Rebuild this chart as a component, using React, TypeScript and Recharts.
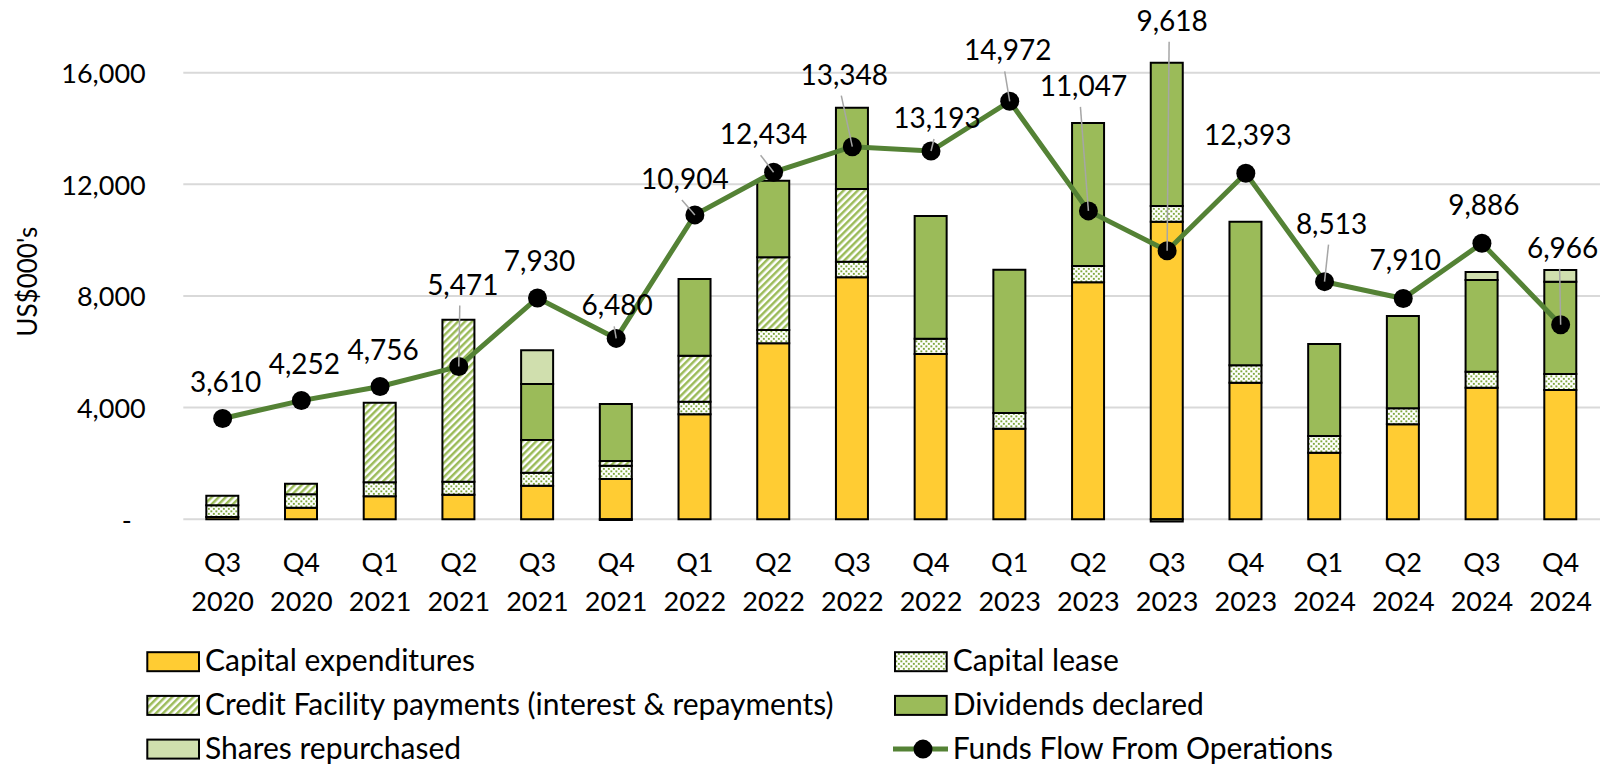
import React from "react";
import {
  ComposedChart,
  Bar,
  Line,
  XAxis,
  YAxis,
  CartesianGrid,
  LabelList,
} from "recharts";

// Quarterly uses of cash (stacked bars) vs funds flow from operations (line), US$000's
const quarters = [
  "Q3 2020", "Q4 2020", "Q1 2021", "Q2 2021", "Q3 2021", "Q4 2021",
  "Q1 2022", "Q2 2022", "Q3 2022", "Q4 2022", "Q1 2023", "Q2 2023",
  "Q3 2023", "Q4 2023", "Q1 2024", "Q2 2024", "Q3 2024", "Q4 2024",
];

const capitalExpenditures = [80, 415, 824, 881, 1204, 1444, 3761, 6304, 8668, 5921, 3245, 8489, 10660, 4893, 2386, 3403, 4714, 4632];
const capitalLease = [420, 480, 500, 466, 465, 476, 452, 477, 559, 548, 563, 584, 562, 623, 598, 573, 573, 573];
const creditFacility = [345, 380, 2852, 5803, 1171, 168, 1647, 2604, 2604, 0, 0, 0, 0, 0, 0, 0, 0, 0];
const dividendsDeclared = [0, 0, 0, 0, 2007, 2042, 2748, 2744, 2913, 4395, 5133, 5123, 5134, 5144, 3295, 3306, 3285, 3306];
const sharesRepurchased = [0, 0, 0, 0, 1207, -30, 0, 0, 0, 0, 0, 0, -80, 0, 0, 0, 290, 420];
const fundsFlow = [3610, 4252, 4756, 5471, 7930, 6480, 10904, 12434, 13348, 13193, 14972, 11047, 9618, 12393, 8513, 7910, 9886, 6966];

const yTicks = [0, 4000, 8000, 12000, 16000];

// where the data labels were dragged to in the original (dx, dy from the point; leader line or not)
const labelNudges: [number, number, boolean][] = [
  [3, -38, false], [3, -38, false], [3, -38, false], [4, -83, true],
  [2, -38, false], [1, -34, true], [-10, -37, true], [-10, -39, true],
  [-8, -73, true], [6, -34, true], [-2, -52, true], [-5, -126, true],
  [5, -231, true], [2, -39, false], [7, -59, true], [2, -39, false],
  [2, -39, false], [2, -78, true],
];

const data = quarters.map((quarter, i) => ({
  quarter,
  capex: capitalExpenditures[i],
  lease: capitalLease[i],
  credit: creditFacility[i],
  dividends: dividendsDeclared[i],
  shares: sharesRepurchased[i],
  ffo: fundsFlow[i],
}));

const FONT = "Lato, sans-serif";
const LINE_GREEN = "#548235";

const legendItems = [
  { name: "Capital expenditures", fill: "#FFCC33" },
  { name: "Capital lease", fill: "url(#leaseDots)" },
  { name: "Credit Facility payments (interest & repayments)", fill: "url(#creditStripes)" },
  { name: "Dividends declared", fill: "#9BBB59" },
  { name: "Shares repurchased", fill: "#D0DFAE" },
  { name: "Funds Flow From Operations", fill: null },
];

const QuarterTick = ({ x, y, payload }: any) => {
  const [q, yr] = String(payload.value).split(" ");
  return (
    <text textAnchor="middle" fontFamily={FONT} fontSize={27} fill="#000">
      <tspan x={x} y={y + 50}>{q}</tspan>
      <tspan x={x} y={y + 89}>{yr}</tspan>
    </text>
  );
};

const AmountTick = ({ x, y, payload }: any) => (
  <text
    x={payload.value === 0 ? x - 14 : x}
    y={y}
    textAnchor="end"
    dominantBaseline="central"
    fontFamily={FONT}
    fontSize={27}
    fill="#000"
  >
    {payload.value === 0 ? "-" : Number(payload.value).toLocaleString("en-US")}
  </text>
);

const FlowLabel = (props: any) => {
  const { x, y, value, index } = props;
  const [dx, dy, leader] = labelNudges[index] || [0, -38, false];
  return (
    <g>
      {leader && (
        <line x1={x + dx - 3} y1={y + dy + 22} x2={x} y2={y} stroke="#A6A6A6" strokeWidth={1.5} />
      )}
      <text
        x={x + dx}
        y={y + dy}
        textAnchor="middle"
        dominantBaseline="central"
        fontFamily={FONT}
        fontSize={28}
        fill="#000"
      >
        {Number(value).toLocaleString("en-US")}
      </text>
    </g>
  );
};

function Legend() {
  return (
    <svg width={1603} height={145} style={{ position: "absolute", left: 0, top: 620 }}>
      {legendItems.map((item, i) => {
        const sx = 147.3 + (i % 2) * 747.7;
        const cy = 41.7 + Math.floor(i / 2) * 43.7;
        return (
          <g key={item.name}>
            {item.fill ? (
              <rect x={sx} y={cy - 9.5} width={51.7} height={19} fill={item.fill} stroke="#000" strokeWidth={2} />
            ) : (
              <g>
                <line x1={sx - 2} y1={cy} x2={sx + 53} y2={cy} stroke={LINE_GREEN} strokeWidth={5} />
                <circle cx={sx + 28} cy={cy} r={9.5} fill="#000" />
              </g>
            )}
            <text x={sx + 57.7} y={cy + 9.5} fontFamily={FONT} fontSize={30} fill="#000">
              {item.name}
            </text>
          </g>
        );
      })}
    </svg>
  );
}

export default function App() {
  return (
    <div style={{ position: "absolute", left: 0, top: 0, width: 1603, height: 765, background: "#fff" }}>
      <svg width={0} height={0} style={{ position: "absolute" }}>
        <defs>
          <pattern id="leaseDots" patternUnits="userSpaceOnUse" width={5} height={5}>
            <rect width={5} height={5} fill="#fff" />
            <rect x={0.4} y={0.4} width={1.9} height={1.9} fill="#7FA83F" />
            <rect x={2.9} y={2.9} width={1.9} height={1.9} fill="#7FA83F" />
          </pattern>
          <pattern id="creditStripes" patternUnits="userSpaceOnUse" width={5} height={5} patternTransform="rotate(45)">
            <rect width={5} height={5} fill="#fff" />
            <rect width={2.5} height={5} fill="#9BBB59" />
          </pattern>
        </defs>
      </svg>

      <ComposedChart
        width={1603}
        height={621.8}
        data={data}
        stackOffset="sign"
        margin={{ top: 16.8, right: 3, bottom: 0, left: 0 }}
      >
        <CartesianGrid vertical={false} horizontalValues={yTicks} stroke="#D9D9D9" strokeWidth={2} />
        <XAxis
          dataKey="quarter"
          axisLine={false}
          tickLine={false}
          tickSize={0}
          tickMargin={0}
          height={100}
          interval={0}
          tick={<QuarterTick />}
        />
        <YAxis
          type="number"
          domain={[-90, 18000]}
          ticks={yTicks}
          width={183.3}
          axisLine={false}
          tickLine={false}
          tickSize={0}
          tickMargin={37.6}
          tick={<AmountTick />}
        />
        <Bar dataKey="capex" stackId="uses" fill="#FFCC33" stroke="#000" strokeWidth={2} barSize={32} isAnimationActive={false} />
        <Bar dataKey="lease" stackId="uses" fill="url(#leaseDots)" stroke="#000" strokeWidth={2} barSize={32} isAnimationActive={false} />
        <Bar dataKey="credit" stackId="uses" fill="url(#creditStripes)" stroke="#000" strokeWidth={2} barSize={32} isAnimationActive={false} />
        <Bar dataKey="dividends" stackId="uses" fill="#9BBB59" stroke="#000" strokeWidth={2} barSize={32} isAnimationActive={false} />
        <Bar dataKey="shares" stackId="uses" fill="#D0DFAE" stroke="#000" strokeWidth={2} barSize={32} isAnimationActive={false} />
        <Line
          dataKey="ffo"
          stroke={LINE_GREEN}
          strokeWidth={5}
          dot={{ r: 9.5, fill: "#000", stroke: "#000", strokeWidth: 0 }}
          activeDot={false}
          isAnimationActive={false}
        >
          <LabelList dataKey="ffo" content={<FlowLabel />} />
        </Line>
      </ComposedChart>

      <svg width={60} height={300} style={{ position: "absolute", left: 0, top: 130 }}>
        <text
          x={26.7}
          y={151.7}
          transform="rotate(-90 26.7 151.7)"
          textAnchor="middle"
          dominantBaseline="central"
          fontFamily={FONT}
          fontSize={26}
          fill="#000"
        >
          US$000's
        </text>
      </svg>

      <Legend />
    </div>
  );
}
